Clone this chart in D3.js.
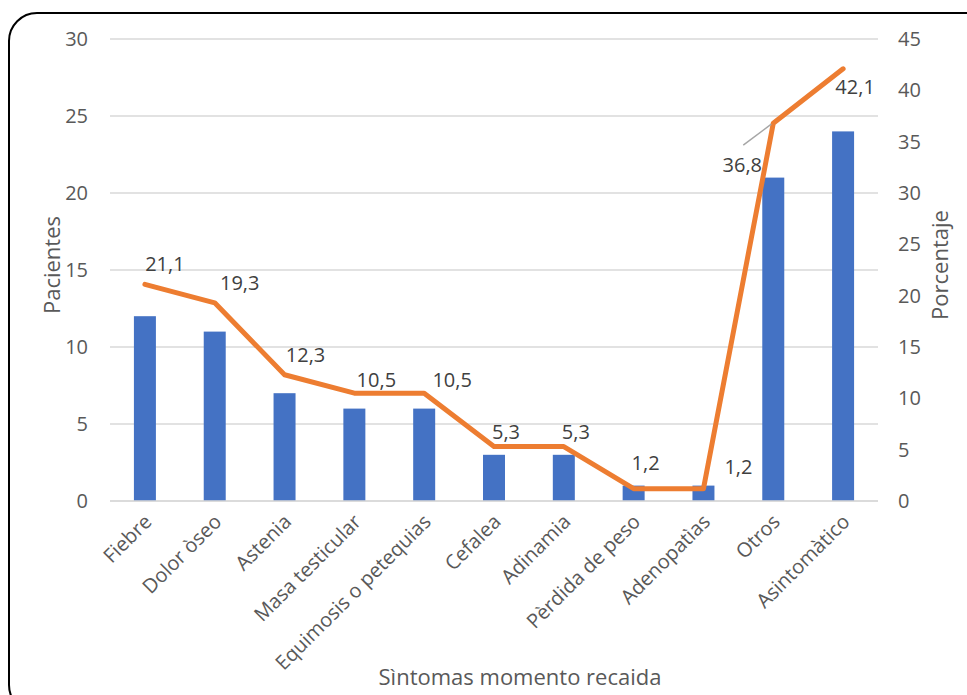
<!DOCTYPE html>
<html>
<head>
<meta charset="utf-8">
<script src="https://cdn.jsdelivr.net/npm/d3@7"></script>
<style>
  body { margin: 0; background: #fff; }
  svg { display: block; font-family: "Open Sans", "Noto Sans", sans-serif; }
</style>
</head>
<body>
<script>
// data
const categories = ["Fiebre", "Dolor òseo", "Astenia", "Masa testicular", "Equimosis o petequias",
  "Cefalea", "Adinamia", "Pèrdida de peso", "Adenopatìas", "Otros", "Asintomàtico"];
const pacientes = [12, 11, 7, 6, 6, 3, 3, 1, 1, 21, 24];
const porcentaje = [21.1, 19.3, 12.3, 10.5, 10.5, 5.3, 5.3, 1.2, 1.2, 36.8, 42.1];
const leftTicks = [0, 5, 10, 15, 20, 25, 30];
const rightTicks = [0, 5, 10, 15, 20, 25, 30, 35, 40, 45];

const W = 967, H = 695;
const margin = { top: 39, left: 110, right: 89, bottom: 194 };
const plotW = W - margin.left - margin.right;   // 768
const plotH = H - margin.top - margin.bottom;   // 462

const svg = d3.select("body").append("svg")
  .attr("width", W)
  .attr("height", H);

// frame with rounded corners (runs off the right and bottom edges)
svg.append("rect")
  .attr("x", 9).attr("y", 13)
  .attr("width", 990).attr("height", 700)
  .attr("rx", 28).attr("ry", 28)
  .attr("fill", "none")
  .attr("stroke", "#000")
  .attr("stroke-width", 2);

const g = svg.append("g").attr("transform", `translate(${margin.left},${margin.top})`);

const x = d3.scaleBand().domain(categories).range([0, plotW]).paddingInner(0.685).paddingOuter(0.3425);
const xc = d => x(d) + x.bandwidth() / 2;
const yL = d3.scaleLinear().domain([0, 30]).range([plotH, 0]);
const yR = d3.scaleLinear().domain([0, 45]).range([plotH, 0]);

const textCol = "#595959";

// gridlines
g.append("g")
  .selectAll("line")
  .data(leftTicks)
  .join("line")
  .attr("x1", 0).attr("x2", plotW)
  .attr("y1", d => yL(d)).attr("y2", d => yL(d))
  .attr("stroke", "#d9d9d9")
  .attr("stroke-width", 1.3);

// left axis
const leftAxis = g.append("g")
  .call(d3.axisLeft(yL).tickValues(leftTicks).tickSize(0).tickPadding(22));
leftAxis.select(".domain").remove();
leftAxis.selectAll("text").attr("font-size", 20).attr("fill", textCol).attr("font-family", "Open Sans");

// right axis
const rightAxis = g.append("g")
  .attr("transform", `translate(${plotW},0)`)
  .call(d3.axisRight(yR).tickValues(rightTicks).tickSize(0).tickPadding(20));
rightAxis.select(".domain").remove();
rightAxis.selectAll("text").attr("font-size", 20).attr("fill", textCol).attr("font-family", "Open Sans");

// bars
g.append("g")
  .selectAll("rect")
  .data(categories)
  .join("rect")
  .attr("x", d => x(d))
  .attr("y", (d, i) => yL(pacientes[i]))
  .attr("width", x.bandwidth())
  .attr("height", (d, i) => plotH - yL(pacientes[i]))
  .attr("fill", "#4472c4");

// x axis baseline
g.append("line")
  .attr("x1", 0).attr("x2", plotW)
  .attr("y1", plotH).attr("y2", plotH)
  .attr("stroke", "#d9d9d9")
  .attr("stroke-width", 1.3);

// x labels rotated
g.append("g")
  .selectAll("text")
  .data(categories)
  .join("text")
  .attr("transform", d => `translate(${xc(d) + 8},${plotH + 22}) rotate(-45)`)
  .attr("text-anchor", "end")
  .attr("font-size", 20)
  .attr("fill", textCol)
  .text(d => d);

// percentage line
const line = d3.line()
  .x((d, i) => xc(categories[i]))
  .y(d => yR(d));

g.append("path")
  .datum(porcentaje)
  .attr("d", line)
  .attr("fill", "none")
  .attr("stroke", "#ed7d31")
  .attr("stroke-width", 5)
  .attr("stroke-linejoin", "round")
  .attr("stroke-linecap", "round");

// data label offsets from each point (label centre)
const labelOffset = [
  [20, -20], [25, -20], [21, -20], [22, -13], [28, -13], [12, -15],
  [12, -15], [12, -26], [35, -22], [-31, 42], [12, 18]
];
// leader line for 36,8
g.append("line")
  .attr("x1", xc(categories[9]) - 30).attr("y1", yR(porcentaje[9]) + 22)
  .attr("x2", xc(categories[9]) - 2).attr("y2", yR(porcentaje[9]) + 1)
  .attr("stroke", "#a6a6a6")
  .attr("stroke-width", 1.5);

g.append("g")
  .selectAll("text")
  .data(porcentaje)
  .join("text")
  .attr("x", (d, i) => xc(categories[i]) + labelOffset[i][0])
  .attr("y", (d, i) => yR(d) + labelOffset[i][1] + 7)
  .attr("text-anchor", "middle")
  .attr("font-size", 20)
  .attr("fill", "#404040")
  .text(d => d.toFixed(1).replace(".", ","));

// axis titles
svg.append("text")
  .attr("transform", `translate(60,${margin.top + 226}) rotate(-90)`)
  .attr("text-anchor", "middle")
  .attr("font-size", 22)
  .attr("fill", textCol)
  .text("Pacientes");

svg.append("text")
  .attr("transform", `translate(948,${margin.top + 226}) rotate(-90)`)
  .attr("text-anchor", "middle")
  .attr("font-size", 22)
  .attr("fill", textCol)
  .text("Porcentaje");

svg.append("text")
  .attr("x", 520)
  .attr("y", 685)
  .attr("text-anchor", "middle")
  .attr("font-size", 22)
  .attr("fill", textCol)
  .text("Sìntomas momento recaida");
</script>
</body>
</html>
